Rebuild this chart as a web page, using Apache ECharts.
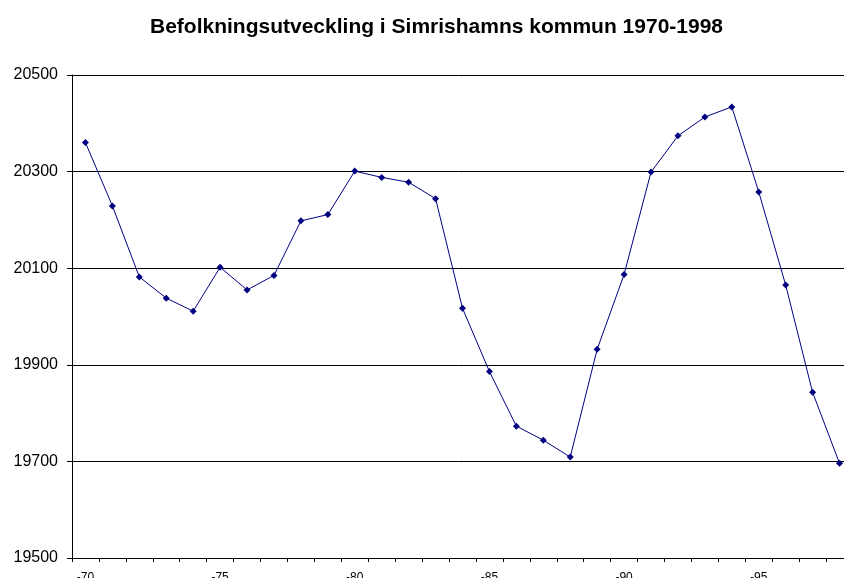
<!DOCTYPE html>
<html>
<head>
    <meta charset="UTF-8">
    <title>Befolkningsutveckling</title>
    <script src="https://cdn.jsdelivr.net/npm/echarts@6/dist/echarts.min.js"></script>
    <style>
        html, body { margin: 0; padding: 0; background: #fff; }
        #chart { width: 844px; height: 578px; }
    </style>
</head>
<body>
<div id="chart"></div>
<script type="text/javascript">
    // år (kategorier) och folkmängd
    var years = ['-70', '-71', '-72', '-73', '-74', '-75', '-76', '-77', '-78', '-79',
        '-80', '-81', '-82', '-83', '-84', '-85', '-86', '-87', '-88', '-89',
        '-90', '-91', '-92', '-93', '-94', '-95', '-96', '-97', '-98'];
    var population = [20360, 20229, 20082, 20038, 20011, 20102, 20055, 20085, 20198, 20211,
        20301, 20288, 20278, 20244, 20017, 19886, 19773, 19744, 19709, 19932,
        20087, 20299, 20374, 20413, 20434, 20258, 20065, 19843, 19696];
    var yMin = 19500, yMax = 20500, yStep = 200;

    var myChart = echarts.init(document.getElementById('chart'));

    var option = {
        backgroundColor: '#fff',
        animation: false,
        title: {
            text: 'Befolkningsutveckling i Simrishamns kommun 1970-1998',
            left: 145,
            top: 12,
            textStyle: {
                fontFamily: 'Liberation Sans, Arial, sans-serif',
                fontSize: 21,
                fontWeight: 'bold',
                color: '#000'
            }
        },
        // plotytan går lite utanför bilden till höger och nertill
        grid: {
            top: 75,
            left: 72,
            width: 781,
            height: 483,
            outerBoundsMode: 'none',
            containLabel: false
        },
        xAxis: {
            type: 'category',
            data: years,
            boundaryGap: true,
            axisLine: { show: true, lineStyle: { color: '#000', width: 1 } },
            axisTick: {
                show: true,
                interval: 0,
                length: 4,
                lineStyle: { color: '#000' }
            },
            axisLabel: {
                interval: 4,
                margin: 14,
                fontFamily: 'Liberation Sans, Arial, sans-serif',
                fontSize: 12,
                color: '#000'
            },
            splitLine: { show: false }
        },
        yAxis: {
            type: 'value',
            min: yMin,
            max: yMax,
            interval: yStep,
            axisLine: { show: true, lineStyle: { color: '#000', width: 1 } },
            axisTick: { show: true, length: 5, lineStyle: { color: '#000' } },
            axisLabel: {
                margin: 14,
                fontFamily: 'Liberation Sans, Arial, sans-serif',
                fontSize: 16,
                color: '#000',
                formatter: function (v) { return String(v); }
            },
            splitLine: { show: true, lineStyle: { color: '#000', width: 1 } }
        },
        series: [{
            type: 'line',
            data: population,
            symbol: 'diamond',
            symbolSize: 7,
            showSymbol: true,
            lineStyle: { color: '#000080', width: 1 },
            itemStyle: { color: '#000080' }
        }]
    };
    myChart.setOption(option);
</script>
</body>
</html>
